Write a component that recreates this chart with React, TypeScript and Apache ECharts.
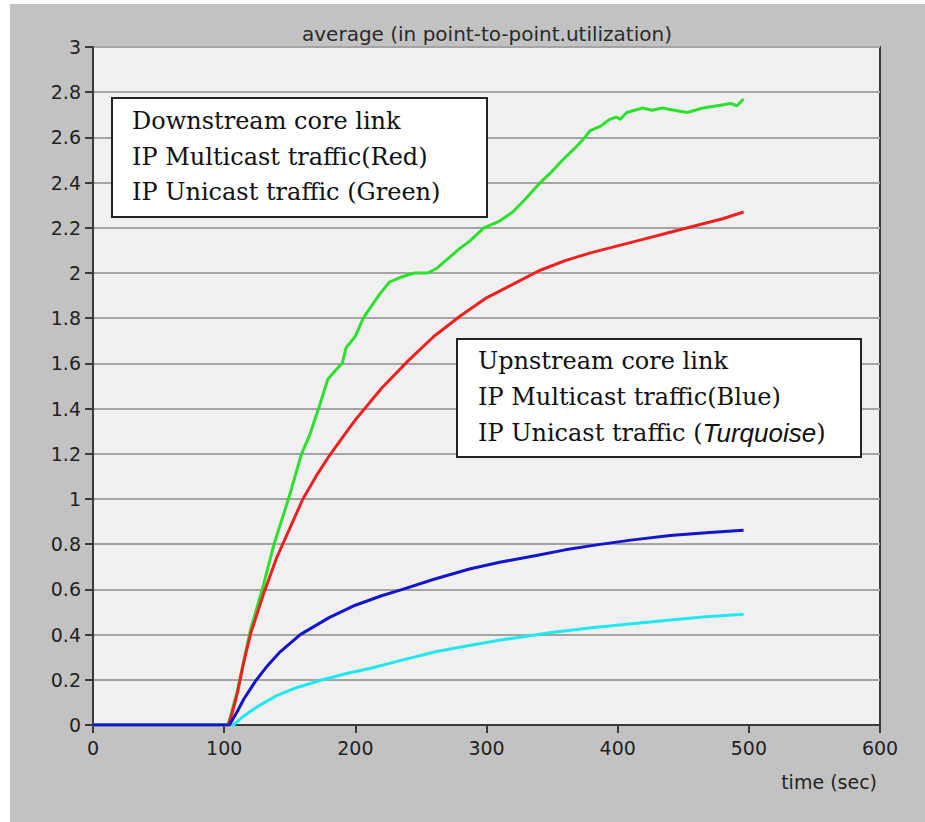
import React, { useEffect, useRef } from "react";
import * as echarts from "echarts";

const chartTitle = "average (in point-to-point.utilization)";
const xAxisName = "time (sec)";
const xTicks = [0, 100, 200, 300, 400, 500, 600];
const yTicks = [0, 0.2, 0.4, 0.6, 0.8, 1, 1.2, 1.4, 1.6, 1.8, 2, 2.2, 2.4, 2.6, 2.8, 3];

// Downstream unicast (green)
const greenT = [0, 103, 110, 120, 130, 138, 149, 159, 165, 172, 179, 185, 190, 193, 200, 206, 213, 219, 226, 234, 245, 255, 262, 270, 280, 287, 298, 310, 320, 330, 341, 350, 358, 367, 375, 379, 387, 394, 399, 402, 407, 419, 426, 434, 443, 453, 465, 476, 486, 491, 496];
const greenV = [0, 0, 0.15, 0.42, 0.62, 0.8, 1.0, 1.2, 1.28, 1.4, 1.53, 1.57, 1.6, 1.67, 1.72, 1.8, 1.86, 1.91, 1.96, 1.98, 2.0, 2.0, 2.02, 2.06, 2.11, 2.14, 2.2, 2.23, 2.27, 2.33, 2.4, 2.45, 2.5, 2.55, 2.6, 2.63, 2.65, 2.68, 2.69, 2.68, 2.71, 2.73, 2.72, 2.73, 2.72, 2.71, 2.73, 2.74, 2.75, 2.74, 2.77];

// Downstream multicast (red)
const redT = [0, 103, 106, 110, 115, 120, 130, 140, 150, 160, 170, 180, 190, 200, 220, 240, 260, 280, 300, 320, 340, 360, 380, 400, 420, 440, 460, 480, 496];
const redV = [0, 0, 0.05, 0.14, 0.28, 0.4, 0.58, 0.74, 0.87, 1.0, 1.1, 1.19, 1.27, 1.35, 1.49, 1.61, 1.72, 1.81, 1.89, 1.95, 2.01, 2.055, 2.09, 2.12, 2.15, 2.18, 2.21, 2.24, 2.27];

// Upstream multicast (blue)
const blueT = [0, 104, 110, 115, 124, 132, 142, 158, 180, 200, 220, 236, 260, 287, 310, 338, 360, 384, 410, 440, 470, 496];
const blueV = [0, 0, 0.06, 0.115, 0.195, 0.255, 0.32, 0.4, 0.475, 0.53, 0.572, 0.6, 0.645, 0.69, 0.72, 0.75, 0.775, 0.797, 0.818, 0.838, 0.852, 0.862];

// Upstream unicast (turquoise)
const cyanT = [0, 107, 115, 125, 140, 155, 175, 195, 211, 234, 262, 290, 313, 351, 380, 415, 440, 465, 496];
const cyanV = [0, 0, 0.04, 0.08, 0.13, 0.165, 0.2, 0.23, 0.25, 0.285, 0.325, 0.355, 0.378, 0.41, 0.43, 0.45, 0.465, 0.478, 0.49];

const box1Lines = ["Downstream core link", "IP Multicast traffic(Red)", "IP Unicast traffic (Green)"];
const box2Lines = ["Upnstream core link", "IP Multicast traffic(Blue)", "IP Unicast traffic ({it|Turquoise})"];

const zip = (t: number[], v: number[]) => t.map((x, i) => [x, v[i]]);

export default function App() {
  const ref = useRef<HTMLDivElement>(null);
  useEffect(() => {
    if (!ref.current) return;
    const chart = echarts.init(ref.current, undefined, { renderer: "svg" });
    const serif = "'DejaVu Serif', 'Liberation Serif', serif";
    const sans = "'DejaVu Sans', Verdana, sans-serif";
    const textStyleBase = { fontFamily: serif, fontSize: 24, fill: "#111" };
    const mkBox = (x: number, y: number, w: number, h: number, lines: string[], padX: number, y0: number, gap: number) => ({
      type: "group",
      children: [
        { type: "rect", shape: { x, y, width: w, height: h }, style: { fill: "#fff", stroke: "#222", lineWidth: 2 }, z: 10 },
        ...lines.map((ln, i) => ({
          type: "text",
          x: x + padX,
          y: y0 + i * gap,
          z: 11,
          style: {
            ...textStyleBase,
            text: ln,
            verticalAlign: "middle",
            rich: { it: { fontFamily: "'Liberation Sans', Arial, sans-serif", fontStyle: "italic", fontSize: 26, fill: "#111" } },
          },
        })),
      ],
    });
    const lineSeries = (name: string, t: number[], v: number[], color: string, z: number) => ({
      name,
      type: "line",
      data: zip(t, v),
      showSymbol: false,
      smooth: false,
      lineStyle: { color, width: 3, join: "round" },
      z,
    });
    chart.setOption({
      animation: false,
      backgroundColor: "#c2c2c2",
      title: {
        text: chartTitle,
        left: 482,
        textAlign: "center",
        top: 19,
        textStyle: { fontFamily: sans, fontSize: 20, fontWeight: "normal", color: "#2a2a2a" },
      },
      grid: { left: 93, right: 45, top: 47, bottom: 97, show: true, backgroundColor: "#f0f0f0", borderColor: "#3a3a3a", borderWidth: 2 },
      xAxis: {
        type: "value",
        min: xTicks[0],
        max: xTicks[xTicks.length - 1],
        interval: 100,
        axisLine: { show: true, lineStyle: { color: "#3a3a3a", width: 2 } },
        axisTick: { show: true, length: 8, lineStyle: { color: "#3a3a3a", width: 2 } },
        splitLine: { show: false },
        axisLabel: { margin: 13, fontFamily: sans, fontSize: 19, color: "#222" },
      },
      yAxis: {
        type: "value",
        min: yTicks[0],
        max: yTicks[yTicks.length - 1],
        interval: 0.2,
        axisLine: { show: true, lineStyle: { color: "#3a3a3a", width: 2 } },
        axisTick: { show: true, length: 8, lineStyle: { color: "#3a3a3a", width: 2 } },
        splitLine: { show: true, lineStyle: { color: "#a4a4a4", width: 2 } },
        axisLabel: {
          margin: 12,
          fontFamily: sans,
          fontSize: 19,
          color: "#222",
          formatter: (v: number) => String(+v.toFixed(1)),
        },
      },
      series: [
        lineSeries("IP Unicast (Downstream)", greenT, greenV, "#2ee02e", 2),
        lineSeries("IP Multicast (Downstream)", redT, redV, "#ee2020", 3),
        lineSeries("IP Unicast (Upstream)", cyanT, cyanV, "#20e8ee", 4),
        lineSeries("IP Multicast (Upstream)", blueT, blueV, "#1414c8", 5),
      ],
      graphic: [
        { type: "rect", shape: { x: 0, y: 0, width: 10, height: 822 }, style: { fill: "#fff" }, z: 1 },
        { type: "rect", shape: { x: 0, y: 0, width: 925, height: 4 }, style: { fill: "#fff" }, z: 1 },
        mkBox(112, 98, 375, 119, box1Lines, 20, 121, 35.5),
        mkBox(457, 339, 404, 118, box2Lines, 21, 361, 36),
        {
          type: "text",
          x: 877,
          y: 782,
          style: {
            text: xAxisName,
            textAlign: "right",
            verticalAlign: "middle",
            fontFamily: sans,
            fontSize: 19,
            fill: "#222",
          },
        },
      ],
    });
    return () => chart.dispose();
  }, []);
  return <div ref={ref} style={{ position: "absolute", left: 0, top: 0, width: 925, height: 822 }} />;
}
